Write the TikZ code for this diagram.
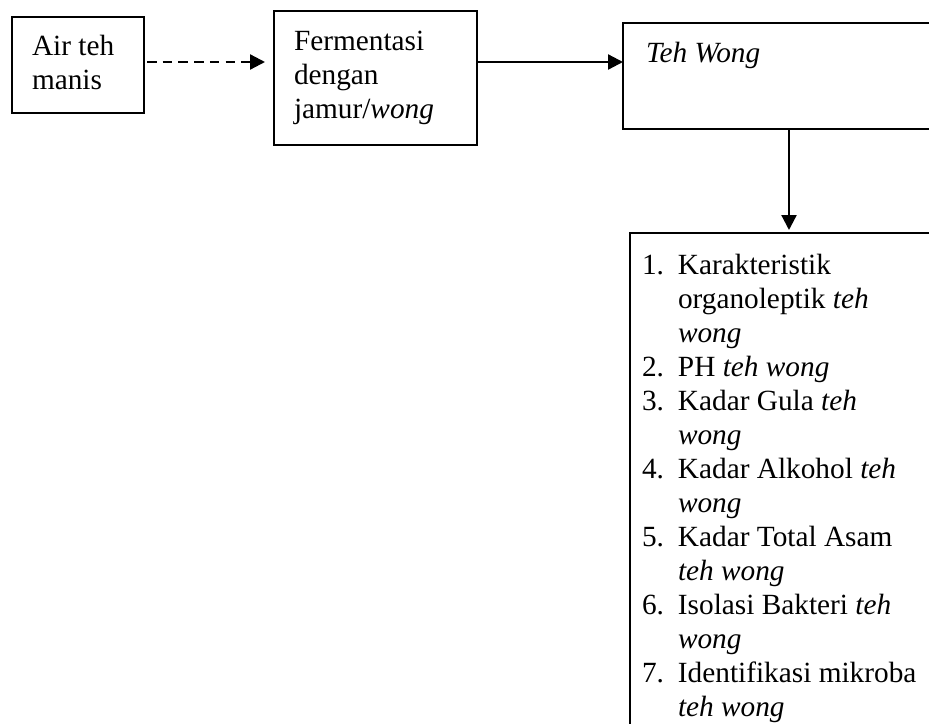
\documentclass[tikz,border=0pt]{standalone}
\usepackage{fontspec}
\setmainfont{Liberation Serif}
\usetikzlibrary{arrows.meta}
\tikzset{
  box/.style={draw, line width=2pt, anchor=north west, inner sep=0pt, outer sep=0pt},
  txt/.style={anchor=base west, inner sep=0pt, outer sep=0pt},
  conn/.style={line width=2.3pt, -{Triangle[length=15pt,width=15pt]}},
  dconn/.style={conn, dash pattern=on 9.5pt off 6.2pt},
}
\newcommand{\lst}[1]{\makebox[36pt][l]{#1}}
\newcommand{\ind}{\hspace*{36pt}}
\begin{document}
\begin{tikzpicture}[x=1pt, y=-1pt, font=\fontsize{29.3pt}{34pt}\selectfont]
\clip (0,0) rectangle (929,723);
\useasboundingbox (0,0) rectangle (929,723);
% boxes
\node[box, minimum width=132pt, minimum height=96pt] (b1) at (12,17) {};
\node[box, minimum width=203pt, minimum height=134pt] (b2) at (274,11) {};
\node[box, minimum width=340pt, minimum height=106pt] (b3) at (623,23) {};
\node[box, minimum width=340pt, minimum height=510pt] (b4) at (630,233) {};
% texts
\node[txt] (t1) at (32,55) {\parbox[t]{110pt}{\baselineskip=34pt Air teh\\manis}};
\node[txt] (t2) at (294,50) {\parbox[t]{180pt}{\baselineskip=34pt Fermentasi\\dengan\\jamur/\textit{wong}}};
\node[txt] (t3) at (646,62) {\textit{Teh Wong}};
\node[txt] (t4) at (642,274) {\parbox[t]{290pt}{\baselineskip=34pt
\lst{1.}Karakteristik\\
\ind organoleptik \textit{teh}\\
\ind\textit{wong}\\
\lst{2.}PH \textit{teh wong}\\
\lst{3.}Kadar Gula \textit{teh}\\
\ind\textit{wong}\\
\lst{4.}Kadar Alkohol \textit{teh}\\
\ind\textit{wong}\\
\lst{5.}Kadar Total Asam\\
\ind\textit{teh wong}\\
\lst{6.}Isolasi Bakteri \textit{teh}\\
\ind\textit{wong}\\
\lst{7.}Identifikasi mikroba\\
\ind\textit{teh wong}}};
% connectors
\coordinate (a1) at ([yshift=3pt]b1.east);
\draw[dconn, shorten <=3pt, shorten >=9pt] (a1) -- (a1 -| b2.west);
\coordinate (a2) at ([yshift=16pt]b2.east);
\draw[conn] (a2) -- (a2 -| b3.west);
\coordinate (a3) at ([xshift=166pt]b3.south west);
\draw[conn, shorten >=3pt] (a3) -- (a3 |- b4.north);
\end{tikzpicture}
\end{document}
